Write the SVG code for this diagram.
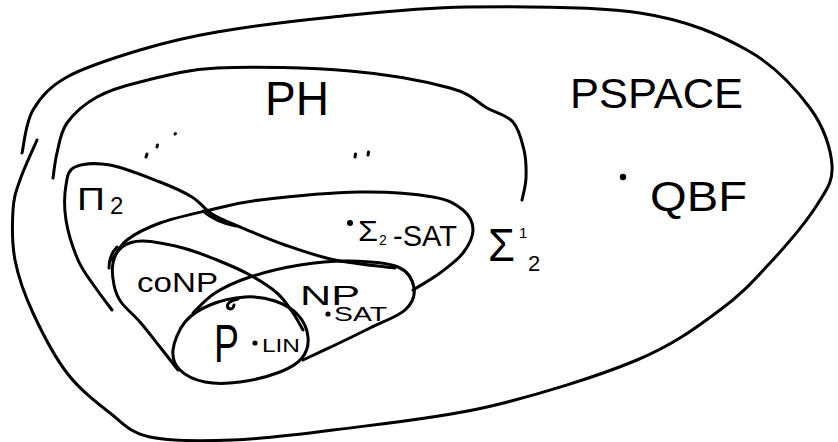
<svg xmlns="http://www.w3.org/2000/svg" width="838" height="442" viewBox="0 0 838 442">
<style>
.o{fill:none;stroke:#000;stroke-width:3;stroke-linecap:round;stroke-linejoin:round}
.t{font-family:"Liberation Sans",Arial,sans-serif;fill:#000}
.d{fill:#000}
</style>
<rect width="838" height="442" fill="#fff"/>
<g id="pspace">
<path class="o" d="M22,153 C23.8,145.8 25.5,122.7 33,110 C40.5,97.3 49.2,87 67,77 C84.8,67 115,57.5 140,50 C165,42.5 184.8,37.5 217,32 C249.2,26.5 291.3,21.2 333,17 C374.7,12.8 415.8,7.7 467,7 C518.2,6.3 593.3,5.8 640,13 C686.7,20.2 718.7,34.2 747,50 C775.3,65.8 795.8,88.8 810,108 C824.2,127.2 830.8,148.8 832,165 C833.2,181.2 827.3,188.7 817,205 C806.7,221.3 786.2,245.5 770,263 C753.8,280.5 742.2,293.8 720,310 C697.8,326.2 675.8,343.8 637,360 C598.2,376.2 537.7,395.3 487,407 C436.3,418.7 375.3,424.5 333,430 C290.7,435.5 263.5,438.8 233,440 C202.5,441.2 170.5,441.5 150,437 C129.5,432.5 123.8,423.7 110,413 C96.2,402.3 79.8,389.7 67,373 C54.2,356.3 41.7,331.8 33,313 C24.3,294.2 18.3,277.2 15,260 C11.7,242.8 12.2,223.3 13,210 C13.8,196.7 16,191.7 20,180 C24,168.3 34.2,146.7 37,140"/>
<text class="t" x="570" y="108" font-size="42" textLength="173" lengthAdjust="spacingAndGlyphs">PSPACE</text>
<circle class="d" cx="623" cy="177" r="3.2"/>
<text class="t" x="650" y="211" font-size="42" textLength="97" lengthAdjust="spacingAndGlyphs">QBF</text>
</g>
<g id="ph">
<path class="o" d="M53,178 C53.7,173.8 54.7,162.2 57,153 C59.3,143.8 60.3,132.3 67,123 C73.7,113.7 84.8,103.8 97,97 C109.2,90.2 120,86.8 140,82 C160,77.2 182,69.8 217,68 C252,66.2 311.2,67.7 350,71 C388.8,74.3 427.2,81.8 450,88 C472.8,94.2 476.5,102.3 487,108 C497.5,113.7 506.8,115 513,122 C519.2,129 521.8,140.7 524,150 C526.2,159.3 526.3,169.7 526,178 C525.7,186.3 522.7,196.3 522,200"/>
<text class="t" x="265" y="115" font-size="48" textLength="64" lengthAdjust="spacingAndGlyphs">PH</text>
<path class="o" d="M146,157 L147,154 M157,147 L157.5,145 M175,134 L175.5,133.5"/>
<path class="o" d="M355,157 L355.5,154 M368,155 L368.5,152"/>
</g>
<g id="pi2">
<path class="o" d="M112,310 C109.2,306.2 100.7,295.3 95,287 C89.3,278.7 82.8,271.2 78,260 C73.2,248.8 68,232.5 66,220 C64,207.5 64.5,193.8 66,185 C67.5,176.2 67.7,170.3 75,167 C82.3,163.7 95.8,162.5 110,165 C124.2,167.5 146.3,176.7 160,182 C173.7,187.3 183.3,191.7 192,197 C200.7,202.3 204,209 212,214 C220,219 227.8,221.8 240,227 C252.2,232.2 269.2,239.5 285,245 C300.8,250.5 316.7,256.2 335,260 C353.3,263.8 385,266.7 395,268"/>
<path class="o" d="M203,211 Q216,222 236,226"/>
<text class="t" x="77" y="210" font-size="31" textLength="28" lengthAdjust="spacingAndGlyphs">Π</text>
<text class="t" x="110" y="214" font-size="24">2</text>
</g>
<g id="sigma2">
<path class="o" d="M112,260 C114.5,256.7 119,246.2 127,240 C135,233.8 146.2,228 160,223 C173.8,218 193.3,213.8 210,210 C226.7,206.2 235,203 260,200 C285,197 331.2,192.5 360,192 C388.8,191.5 415.8,194 433,197 C450.2,200 456.3,204.5 463,210 C469.7,215.5 473,222.8 473,230 C473,237.2 468.5,245.8 463,253 C457.5,260.2 448.3,266.8 440,273 C431.7,279.2 417.5,287.2 413,290"/>
<path class="o" d="M109,268 Q109,255 117,247"/>
<circle class="d" cx="350" cy="223" r="3"/>
<text class="t" x="358" y="241" font-size="30" textLength="20" lengthAdjust="spacingAndGlyphs">Σ</text>
<text class="t" x="379" y="245" font-size="14">2</text>
<text class="t" x="393" y="246" font-size="30" textLength="64" lengthAdjust="spacingAndGlyphs">-SAT</text>
<text class="t" x="488" y="261" font-size="46" textLength="27" lengthAdjust="spacingAndGlyphs">Σ</text>
<text class="t" x="519" y="238" font-size="15">1</text>
<text class="t" x="528" y="271" font-size="22">2</text>
</g>
<g id="conp">
<path class="o" d="M303,330 C301.3,327.2 297.3,319.2 293,313 C288.7,306.8 284.2,299.3 277,293 C269.8,286.7 260,280.5 250,275 C240,269.5 228.2,264.5 217,260 C205.8,255.5 195.3,251.2 183,248 C170.7,244.8 153.2,241.2 143,241 C132.8,240.8 127,243.3 122,247 C117,250.7 114.3,256.7 113,263 C111.7,269.3 112.7,278.5 114,285 C115.3,291.5 116.7,295.8 121,302 C125.3,308.2 133.5,314.5 140,322 C146.5,329.5 153.7,339 160,347 C166.3,355 175,366.2 178,370"/>
<text class="t" x="137" y="292" font-size="27" textLength="81" lengthAdjust="spacingAndGlyphs">coNP</text>
</g>
<g id="np">
<path class="o" d="M193,313 C196.7,309.7 205.5,299 215,293 C224.5,287 235.8,281.7 250,277 C264.2,272.3 283.3,267.7 300,265 C316.7,262.3 333.7,260.7 350,261 C366.3,261.3 387.3,262.5 398,267 C408.7,271.5 412.8,280.8 414,288 C415.2,295.2 412.3,303.3 405,310 C397.7,316.7 382,322 370,328 C358,334 344.2,340.7 333,346 C321.8,351.3 308,357.7 303,360"/>
<text class="t" x="300" y="305" font-size="28" textLength="60" lengthAdjust="spacingAndGlyphs">NP</text>
<circle class="d" cx="328" cy="314" r="2.6"/>
<text class="t" x="334" y="321" font-size="21" textLength="53" lengthAdjust="spacingAndGlyphs">SAT</text>
</g>
<g id="p">
<path class="o" d="M173,350 C173.8,342 178.8,329.5 185,322 C191.2,314.5 200,309.2 210,305 C220,300.8 234.2,297.7 245,297 C255.8,296.3 266.2,298 275,301 C283.8,304 292.5,309 298,315 C303.5,321 307.3,329.8 308,337 C308.7,344.2 306.7,352.2 302,358 C297.3,363.8 290.3,368 280,372 C269.7,376 252.5,380.3 240,382 C227.5,383.7 215,384 205,382 C195,380 185.3,375.3 180,370 C174.7,364.7 172.2,358 173,350 Z"/>
<path class="o" d="M238,299 Q225,302 228,308 Q233,311 234,305"/>
<text class="t" x="214" y="362" font-size="54" textLength="25" lengthAdjust="spacingAndGlyphs">P</text>
<circle class="d" cx="255" cy="343" r="2.6"/>
<text class="t" x="262" y="352" font-size="19" textLength="38" lengthAdjust="spacingAndGlyphs">LIN</text>
</g>
<g id="connectors"/>
</svg>
